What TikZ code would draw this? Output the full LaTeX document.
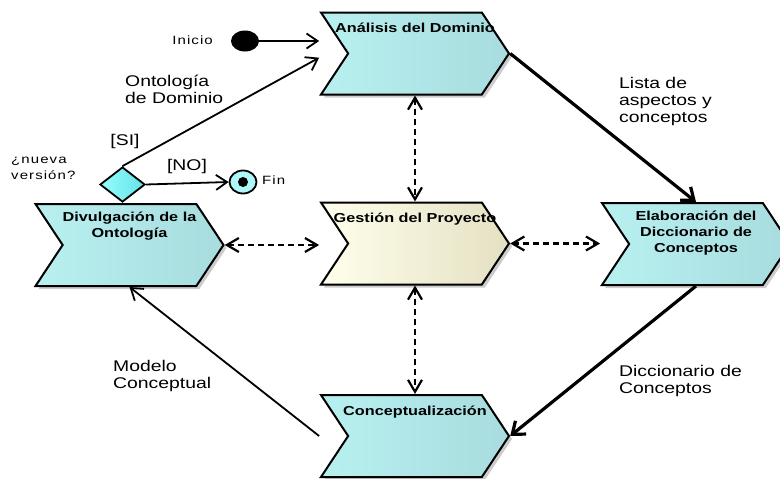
\documentclass[tikz,border=0pt]{standalone}
\usepackage{fontspec}
\setmainfont{Liberation Sans}[FakeStretch=1.25]
\usetikzlibrary{shapes.symbols,shapes.geometric,arrows.meta,shadows,positioning,calc}

\definecolor{celesteizq}{RGB}{184,240,240}
\definecolor{celeste}{RGB}{206,255,255}
\definecolor{celesteder}{RGB}{168,220,222}
\definecolor{cremaizq}{RGB}{255,255,236}
\definecolor{crema}{RGB}{248,248,222}
\definecolor{cremader}{RGB}{228,224,194}
\definecolor{romboizq}{RGB}{150,255,255}
\definecolor{romboder}{RGB}{100,225,230}

\tikzset{
  etapa/.style={signal, signal from=west, signal to=east, signal pointer angle=113,
    draw=black, line width=2pt, minimum width=188pt, minimum height=82pt, inner sep=0pt,
    left color=celesteizq, middle color=celeste, right color=celesteder,
    drop shadow={shadow xshift=3pt, shadow yshift=-3pt, fill=black!40}},
  titulo/.style={anchor=north, inner sep=0pt, align=center,
    font=\bfseries\fontsize{13}{16}\selectfont, execute at begin node={\rule{0pt}{12.5pt}}},
  etiqueta/.style={anchor=north west, inner sep=0pt, align=left,
    font=\fontsize{15.5}{17}\selectfont, execute at begin node={\rule{0pt}{12pt}}},
  chica/.style={inner sep=0pt, align=left,
    font=\fontsize{12}{15.5}\selectfont\addfontfeature{LetterSpace=9}},
  flecha/.style={line width=1.8pt, -{Straight Barb[length=11pt,width=15pt]}},
  gruesa/.style={line width=3.2pt, -{Straight Barb[length=11pt,width=17pt]}},
  enlace/.style={line width=2.2pt, dash pattern=on 6pt off 4pt,
    {Straight Barb[length=12pt,width=14pt]}-{Straight Barb[length=12pt,width=14pt]}}
}

\begin{document}
\begin{tikzpicture}[x=1pt,y=-1pt]
\useasboundingbox (0,0) rectangle (780,479);

% Draw the stages
\node[etapa] (ana) at (415,53.5) {};
\node[etapa, left color=cremaizq, middle color=crema, right color=cremader] (ges) at (415,243.5) {};
\node[etapa] (ela) at (696,244) {};
\node[etapa] (con) at (415,436) {};
\node[etapa] (div) at (129.5,245) {};

\node[titulo] (anat) at ([yshift=-8.5pt]ana.north) {Análisis del Dominio};
\node[titulo] (gest) at ([yshift=-8.5pt]ges.north) {Gestión del Proyecto};
\node[titulo] (elat) at ([yshift=-9pt]ela.north) {Elaboración del\\Diccionario de\\Conceptos};
\node[titulo] (cont) at ([yshift=-9pt]con.north) {Conceptualización};
\node[titulo] (divt) at ([yshift=-8.5pt]div.north) {Divulgación de la\\Ontología};

% Start, decision and end
\node[ellipse, fill=black, minimum width=28pt, minimum height=21pt, inner sep=0pt] (ini) at (245,41) {};
\node[diamond, draw, line width=1.8pt, minimum width=45pt, minimum height=35pt, inner sep=0pt,
  left color=romboizq, right color=romboder] (dia) at (122.5,184.5) {};
\node[ellipse, draw, line width=1.8pt, fill=celeste!70!romboder, minimum width=27pt, minimum height=23pt, inner sep=0pt] (fin) at (243,182) {};
\node[circle, fill=black, minimum size=10pt, inner sep=0pt] (finp) at (fin) {};

\node[chica, anchor=base east] (lini) at (213,44) {Inicio};
\node[chica, anchor=north west] (lnueva) at (11,157) {¿nueva\\versión?};
\node[chica, anchor=base west] (lfin) at (262,184) {Fin};

% Labels of the flows
\node[etiqueta] (lont) at (125,75) {Ontología\\de Dominio};
\node[etiqueta, anchor=center] (lsi) at (125,141) {[SI]};
\node[etiqueta, anchor=center] (lno) at (187,166) {[NO]};
\node[etiqueta] (llista) at (619,77) {Lista de\\aspectos y\\conceptos};
\node[etiqueta] (ldic) at (619,365) {Diccionario de\\Conceptos};
\node[etiqueta] (lmod) at (113,360) {Modelo\\Conceptual};

% Draw the flow
\draw[flecha] (ini) -- (ini -| ana.north west);
\draw[flecha] (dia.north) -- ($(ana.north west)!.55!(ana.south west)$);
\draw[flecha] (dia.east) -- (fin.west);
\draw[gruesa] (ana.east) -- (ela.north);
\draw[gruesa] (ela.south) -- (con.east);
\draw[flecha] (con.north west |- con.east) -- (div.south);

% Draw the dashed links
\draw[enlace] (ana.south) -- (ges.north);
\draw[enlace] (ges.south) -- (con.north);
\draw[enlace] (div.east) -- (ges.north west |- div.east);
\draw[enlace] (ges.east) -- (ela.north west |- ges.east);
\end{tikzpicture}
\end{document}
